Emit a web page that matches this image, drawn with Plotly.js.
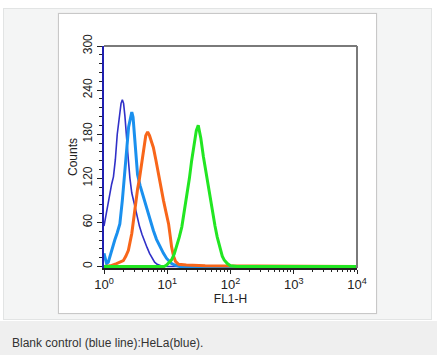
<!DOCTYPE html>
<html><head><meta charset="utf-8">
<script src="https://cdn.plot.ly/plotly-3.0.1.min.js"></script>
<style>
html,body{margin:0;padding:0;background:#fff;width:437px;height:355px;overflow:hidden;font-family:"Liberation Sans",Arial,sans-serif;}
#panel{position:absolute;left:3px;top:8px;width:429px;height:312px;background:#f4f5f5;border:1px solid #e2e4e4;box-sizing:border-box;}
#img{position:absolute;left:58px;top:13px;width:319px;height:301px;background:#fff;border:1px solid #c8c8c8;box-sizing:border-box;box-shadow:0 0 1px #ddd;}
#plot{position:absolute;left:59px;top:14px;width:317px;height:299px;}
#cap{position:absolute;left:0;top:321px;width:437px;height:34px;background:#efefef;}
#captxt{position:absolute;left:12px;top:336px;font-size:12px;color:#333;white-space:nowrap;}
</style></head>
<body>
<div id="panel"></div>
<div id="img"></div>
<div id="plot"></div>
<div id="cap"></div>
<div id="captxt">Blank control (blue line):HeLa(blue).</div>
<script>
const seriesNames = ["Blank control", "HeLa", "Sample orange", "Sample green"];
const darkBlueX = [1.00,1.10,1.20,1.32,1.41,1.51,1.62,1.74,1.86,1.95,2.04,2.14,2.24,2.40,2.57,2.75,3.02,3.31,3.63,3.98,4.37,4.79,5.25,5.75,6.31,6.92,7.94,10,10000];
const darkBlueY = [55,75,95,112,122,145,180,205,222,227,222,205,180,150,120,100,85,68,55,44,34,26,18,11,6,3,1,0,0];
const lightBlueX = [1.00,1.05,1.10,1.17,1.26,1.38,1.48,1.62,1.78,1.95,2.14,2.29,2.45,2.63,2.75,2.88,3.02,3.16,3.39,3.72,4.17,4.68,5.25,6.03,6.76,7.67,8.71,9.77,10.7,11.7,13.2,15.8,10000];
const lightBlueY = [18,8,4,6,16,28,36,46,58,90,125,160,190,205,210,203,180,150,125,110,95,82,65,49,37,27,18,11,7,4,2,0,0];
const orangeX = [1,1.26,1.58,1.82,2.02,2.21,2.43,2.75,3.09,3.39,3.63,3.98,4.27,4.57,4.90,5.25,5.62,6.03,6.61,7.24,7.94,8.71,9.55,10.5,11.2,11.7,12.6,13.5,15.1,20,39.8,79.4,100,10000];
const orangeY = [0,1,4,6,8,14,22,45,81,105,119,145,165,178,183,178,170,162,145,126,108,90,74,58,40,27,14,7,3,2,1,1,0,0];
const greenX = [1,8.91,9.77,10.7,11.7,12.9,14.1,15.5,17.0,18.6,20.4,22.4,24.3,26.3,28.8,30.9,33.9,37.2,39.8,43.7,47.3,51.3,56.9,61.7,67.6,74.1,79.4,89.1,100,126,10000];
const greenY = [0,0,2,5,9,17,27,40,54,74,94,120,144,165,185,192,175,150,135,112,94,75,55,40,27,14,9,4,1,0,0];
const xTickVals = [1,10,100,1000,10000];
const xTickText = ["10<sup>0</sup>","10<sup>1</sup>","10<sup>2</sup>","10<sup>3</sup>","10<sup>4</sup>"];
const yTickVals = [0,60,120,180,240,300];
const xTitle = "FL1-H";
const yTitle = "Counts";

const traces = [
  {x: darkBlueX, y: darkBlueY, name: seriesNames[0], mode: "lines", line: {color: "#3030c8", width: 1.6}},
  {x: lightBlueX, y: lightBlueY, name: seriesNames[1], mode: "lines", line: {color: "#1a90ee", width: 3}},
  {x: orangeX, y: orangeY, name: seriesNames[2], mode: "lines", line: {color: "#f8661a", width: 3}},
  {x: greenX, y: greenY, name: seriesNames[3], mode: "lines", line: {color: "#22e622", width: 3}}
];
const layout = {
  width: 317, height: 299,
  margin: {l: 45, r: 19, t: 32, b: 45},
  paper_bgcolor: "rgba(0,0,0,0)", plot_bgcolor: "#fff",
  showlegend: false,
  font: {family: "Liberation Sans, Arial, sans-serif", size: 12, color: "#222"},
  xaxis: {type: "log", range: [0, 4], tickvals: xTickVals, ticktext: xTickText,
    tickfont: {size: 13},
    showgrid: false, zeroline: false, showline: true, linecolor: "#222", linewidth: 1.5,
    ticks: "outside", ticklen: 4, tickcolor: "#222",
    minor: {dtick: "D1", ticks: "outside", ticklen: 2.5, tickcolor: "#222", showgrid: false},
    title: {text: xTitle, font: {size: 12}, standoff: 1}},
  yaxis: {range: [-2, 300], tickvals: yTickVals, tickangle: -90,
    showgrid: false, zeroline: false, showline: true, linecolor: "#2020b0", linewidth: 2,
    ticks: "outside", ticklen: 5, tickcolor: "#222",
    minor: {dtick: 12, ticks: "outside", ticklen: 3, tickcolor: "#222", showgrid: false},
    title: {text: yTitle, font: {size: 12}, standoff: 1}},
  shapes: [
    {type: "line", xref: "paper", yref: "paper", x0: 0, x1: 1, y0: 1, y1: 1, line: {color: "#7a7a7a", width: 2}},
    {type: "line", xref: "paper", yref: "paper", x0: 1, x1: 1, y0: 0, y1: 1, line: {color: "#7a7a7a", width: 2}}
  ]
};
Plotly.newPlot("plot", traces, layout, {displayModeBar: false, staticPlot: true});
</script>
</body></html>
